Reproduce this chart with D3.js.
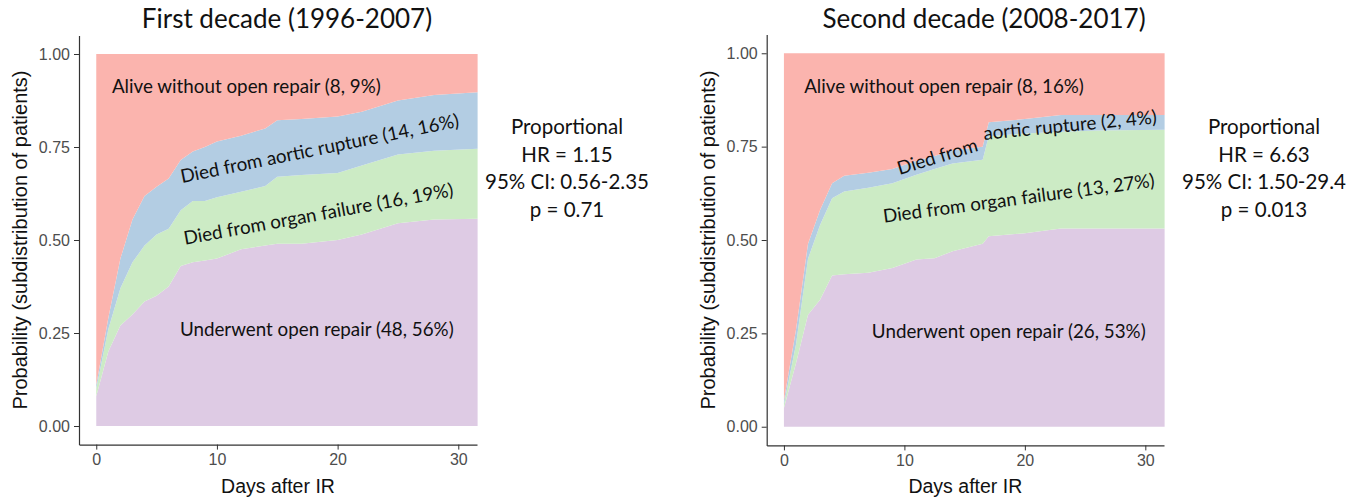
<!DOCTYPE html>
<html>
<head>
<meta charset="utf-8">
<script src="https://cdn.jsdelivr.net/npm/d3@7"></script>
<style>
  body { margin: 0; background: #fff; }
  .lab, .stat, .title { font-family: Lato, "Open Sans", sans-serif; fill: #111; }
  .axis path, .axis line { stroke: #333; }
</style>
</head>
<body>
<svg id="chart" width="1363" height="502"></svg>
<script>
// cumulative incidence by cause
const layerKeys = ["repair", "organ", "rupture", "alive"];
const layerColors = ["#decbe4", "#ccebc5", "#b3cde3", "#fbb4ae"];

// first decade (1996-2007)
const days1    = [0, 1, 2, 3, 4, 5, 6, 7, 8, 9, 10, 12, 14, 15, 17, 20, 22, 25, 28, 31.6];
const repair1  = [0.08, 0.20, 0.27, 0.30, 0.335, 0.35, 0.375, 0.43, 0.44, 0.445, 0.45, 0.475, 0.485, 0.49, 0.49, 0.50, 0.515, 0.545, 0.555, 0.557];
const organ1   = [0.02, 0.06, 0.10, 0.14, 0.15, 0.165, 0.155, 0.15, 0.165, 0.16, 0.165, 0.155, 0.16, 0.18, 0.185, 0.18, 0.185, 0.185, 0.185, 0.188];
const rupture1 = [0.01, 0.03, 0.08, 0.115, 0.133, 0.128, 0.135, 0.135, 0.133, 0.145, 0.15, 0.15, 0.155, 0.152, 0.15, 0.152, 0.145, 0.145, 0.15, 0.152];

// second decade (2008-2017)
const days2    = [0, 1, 2, 3, 4, 5, 7, 9, 11, 12.5, 14, 16.5, 17, 20, 23, 26, 31.6];
const repair2  = [0.05, 0.17, 0.30, 0.34, 0.405, 0.408, 0.412, 0.425, 0.448, 0.451, 0.47, 0.49, 0.51, 0.518, 0.531, 0.531, 0.531];
const organ2   = [0.01, 0.05, 0.15, 0.20, 0.207, 0.222, 0.228, 0.227, 0.227, 0.239, 0.235, 0.225, 0.268, 0.267, 0.259, 0.262, 0.264];
const rupture2 = [0.01, 0.04, 0.04, 0.04, 0.04, 0.042, 0.04, 0.038, 0.037, 0.035, 0.035, 0.035, 0.037, 0.039, 0.045, 0.042, 0.04];

const xTicks = [0, 10, 20, 30];
const yTicks = [0, 0.25, 0.5, 0.75, 1];

const titles = ["First decade (1996-2007)", "Second decade (2008-2017)"];
const statLines1 = ["Proportional", "HR = 1.15", "95% CI: 0.56-2.35", "p = 0.71"];
const statLines2 = ["Proportional", "HR = 6.63", "95% CI: 1.50-29.4", "p = 0.013"];

// in-plot labels: [text, day, probability, angle]
const labels1 = [
    ["Alive without open repair (8, 9%)", 1.3, 0.895, 0],
    ["Died from aortic rupture (14, 16%)", 7.1, 0.653, -11.5],
    ["Died from organ failure (16, 19%)", 7.35, 0.487, -10.3],
    ["Underwent open repair (48, 56%)", 6.93, 0.242, 0]
];
const labels2 = [
    ["Alive without open repair (8, 16%)", 1.68, 0.894, 0],
    ["Died from", 9.6, 0.674, -17],
    ["aortic rupture (2, 4%)", 16.6, 0.768, -5.5],
    ["Died from organ failure (13, 27%)", 8.3, 0.546, -7.6],
    ["Underwent open repair (26, 53%)", 7.3, 0.238, 0]
];

const svg = d3.select("#chart");
const axisFont = '"Liberation Sans", Arial, sans-serif';

function rows(days, repair, organ, rupture) {
    return days.map((d, i) => ({
        day: d,
        repair: repair[i],
        organ: organ[i],
        rupture: rupture[i],
        alive: 1 - repair[i] - organ[i] - rupture[i]
    }));
}

function drawPanel(p) {
    const x = d3.scaleLinear().domain([-1.43, 31.55]).range([p.left, p.right]);
    const y = d3.scaleLinear().domain([-0.05, 1.05]).range([p.bottom, p.top]);

    const series = d3.stack().keys(layerKeys)(p.data);
    const area = d3.area()
        .x(d => x(d.data.day))
        .y0(d => y(d[0]))
        .y1(d => y(d[1]));

    const g = svg.append("g");
    g.selectAll("path.layer")
        .data(series)
        .enter().append("path")
        .attr("class", "layer")
        .attr("d", area)
        .attr("fill", (d, i) => layerColors[i]);

    g.append("g")
        .attr("class", "axis")
        .attr("transform", `translate(0,${p.bottom})`)
        .call(d3.axisBottom(x).tickValues(xTicks).tickSizeInner(5).tickSizeOuter(0).tickPadding(4));

    g.append("g")
        .attr("class", "axis")
        .attr("transform", `translate(${p.left},0)`)
        .call(d3.axisLeft(y).tickValues(yTicks).tickFormat(d3.format(".2f")).tickSizeInner(5).tickSizeOuter(0).tickPadding(4));

    g.selectAll(".axis")
        .attr("font-family", axisFont)
        .attr("font-size", 16);
    g.selectAll(".axis text").attr("fill", "#4d4d4d");
    g.selectAll(".axis .domain").attr("stroke-width", 1.2);

    g.append("text")
        .attr("x", (p.left + p.right) / 2)
        .attr("y", 493)
        .attr("text-anchor", "middle")
        .attr("font-family", axisFont)
        .attr("font-size", 19.5)
        .attr("fill", "#111")
        .text("Days after IR");

    g.append("text")
        .attr("transform", `translate(${p.left - 52},${(y(0) + y(1)) / 2}) rotate(-90)`)
        .attr("text-anchor", "middle")
        .attr("font-family", axisFont)
        .attr("font-size", 20)
        .attr("fill", "#111")
        .text("Probability (subdistribution of patients)");

    g.append("text")
        .attr("class", "title")
        .attr("x", p.titleX)
        .attr("y", 28)
        .attr("text-anchor", "middle")
        .style("font-size", "26px")
        .text(p.title);

    g.selectAll("text.lab")
        .data(p.labels)
        .enter().append("text")
        .attr("class", "lab")
        .attr("transform", d => `translate(${x(d[1])},${y(d[2])}) rotate(${d[3]})`)
        .style("font-size", "18.8px")
        .text(d => d[0]);

    g.selectAll("text.stat")
        .data(p.stats)
        .enter().append("text")
        .attr("class", "stat")
        .attr("x", p.statX)
        .attr("y", (d, i) => 134 + i * 27.5)
        .attr("text-anchor", "middle")
        .style("font-size", "20.5px")
        .text(d => d);
}

drawPanel({
    data: rows(days1, repair1, organ1, rupture1),
    left: 79, right: 477, top: 35.4, bottom: 444.6,
    title: titles[0], titleX: 287,
    labels: labels1, stats: statLines1, statX: 567
});

drawPanel({
    data: rows(days2, repair2, organ2, rupture2),
    left: 766.7, right: 1164, top: 34.6, bottom: 445.4,
    title: titles[1], titleX: 984,
    labels: labels2, stats: statLines2, statX: 1264
});
</script>
</body>
</html>
